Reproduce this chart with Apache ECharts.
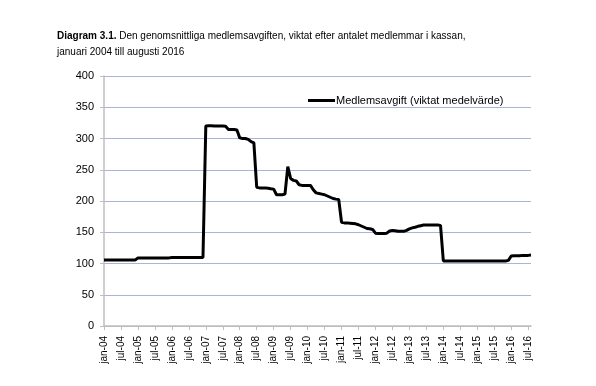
<!DOCTYPE html>
<html>
<head>
<meta charset="utf-8">
<script src="https://cdn.jsdelivr.net/npm/echarts@6/dist/echarts.min.js"></script>
<style>
html,body{margin:0;padding:0;background:#fff;}
#chart{width:596px;height:386px;}
</style>
</head>
<body>
<div id="chart"></div>
<script>
// Categories: months jan-04 .. aug-16
const years = ['04','05','06','07','08','09','10','11','12','13','14','15','16'];
const monthNames = ['jan','feb','mar','apr','maj','jun','jul','aug','sep','okt','nov','dec'];
const lastYearMonths = 8; // data runs to august 2016

// Series values by year (monthly, Medlemsavgift viktat medelvärde)
const v2004 = [105.5,105.5,105.5,105.5,105.5,105.5,105.5,105.5,105.5,105.5,105.5,105.5];
const v2005 = [109,109,109,109,109,109,109,109,109,109,109,109];
const v2006 = [109.5,109.5,109.5,109.5,109.5,109.5,109.5,109.5,109.5,109.5,109.5,109.5];
const v2007 = [320,320.5,320.5,320,320,320,320,319.5,314.5,314.5,314.5,313.5];
const v2008 = [301,300,300,298.5,295,293,222,221,221,221,220.5,219.5];
const v2009 = [219,210,210,210,211,255,236,233,232,226,225,225];
const v2010 = [225,225,218,213,212,211,210,208,206,204,203,202.5];
const v2011 = [166,165,165,164.5,164,163.5,162,160,158,156,155.5,154.5];
const v2012 = [148.5,148,148,148,148.5,152,153,152.5,151.5,151.5,151.5,153];
const v2013 = [155.5,157,158,159.5,160.5,161.5,161.5,161.5,161.5,161.5,161.5,161];
const v2014 = [104,104,104,104,104,104,104,104,104,104,104,104];
const v2015 = [104,104,104,104,104,104,104,104,104,104,104,105];
const v2016 = [112,112.5,112.5,112.5,113,113,113,113.5];

const seriesName = 'Medlemsavgift (viktat medelvärde)';
const yTicks = [0,50,100,150,200,250,300,350,400];

const categories = [];
years.forEach((y, yi) => {
  const n = yi === years.length - 1 ? lastYearMonths : 12;
  for (let m = 0; m < n; m++) categories.push(monthNames[m] + '-' + y);
});
const values = [].concat(v2004,v2005,v2006,v2007,v2008,v2009,v2010,v2011,v2012,v2013,v2014,v2015,v2016);

const FONT = '"Liberation Sans", Arial, sans-serif';
const chart = echarts.init(document.getElementById('chart'), null, {renderer:'canvas'});
chart.setOption({
  animation: false,
  backgroundColor: '#ffffff',
  title: {
    left: 57, top: 28, padding: 0,
    text: '{b|Diagram 3.1.} Den genomsnittliga medlemsavgiften, viktat efter antalet medlemmar i kassan,\njanuari 2004 till augusti 2016',
    textStyle: {
      fontFamily: FONT, fontSize: 10, fontWeight: 'normal', color: '#000', lineHeight: 16,
      rich: { b: { fontFamily: FONT, fontSize: 10, fontWeight: 'bold', color: '#000', lineHeight: 16 } }
    }
  },
  legend: {
    left: 308, top: 95, padding: 0,
    icon: 'rect', itemWidth: 27, itemHeight: 3,
    data: [seriesName],
    textStyle: { fontFamily: FONT, fontSize: 11, color: '#000', padding: [0,0,0,-4] }
  },
  grid: { left: 104, right: 65, top: 76, bottom: 60, containLabel: false },
  xAxis: {
    type: 'category',
    data: categories,
    boundaryGap: false,
    axisLine: { lineStyle: { color: '#bfbfbf', width: 1.5 } },
    axisTick: { interval: 5, length: 4, lineStyle: { color: '#bfbfbf' } },
    axisLabel: { interval: 5, rotate: 90, fontFamily: FONT, fontSize: 10, color: '#000', margin: 10, padding: [6,0,0,0] },
    splitLine: { show: false }
  },
  yAxis: {
    type: 'value',
    min: yTicks[0], max: yTicks[yTicks.length-1], interval: 50,
    axisLine: { show: true, lineStyle: { color: '#bfbfbf', width: 1.5 } },
    axisTick: { show: true, length: 4, lineStyle: { color: '#bfbfbf' } },
    axisLabel: { fontFamily: FONT, fontSize: 11, color: '#000', margin: 10 },
    splitLine: { lineStyle: { color: '#a8b4d8', width: 1 } }
  },
  series: [{
    name: seriesName,
    type: 'line',
    data: values,
    showSymbol: false,
    symbol: 'none',
    color: '#000',
    lineStyle: { color: '#000', width: 3 }
  }]
});
</script>
</body>
</html>
